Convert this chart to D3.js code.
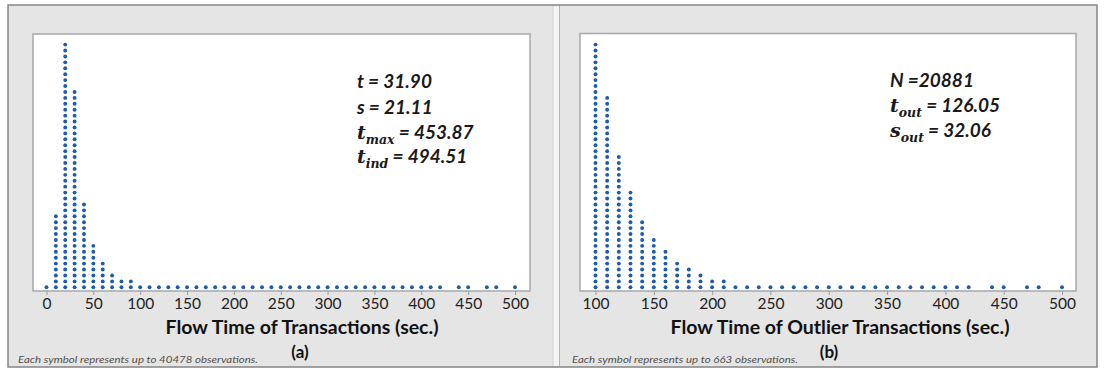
<!DOCTYPE html>
<html>
<head>
<meta charset="utf-8">
<script src="https://cdn.jsdelivr.net/npm/d3@7"></script>
<style>
  body { margin: 0; background: #fff; }
  svg { display: block; }
</style>
</head>
<body>
<svg id="chart" width="1105" height="372"></svg>
<script>
// panel (a): all transactions
const leftBins = [0, 10, 20, 30, 40, 50, 60, 70, 80, 90,
  100, 110, 120, 130, 140, 150, 160, 170, 180, 190,
  200, 210, 220, 230, 240, 250, 260, 270, 280, 290,
  300, 310, 320, 330, 340, 350, 360, 370, 380, 390,
  400, 410, 420, 440, 450, 470, 480, 500];
const leftCounts = [1, 13, 42, 34, 15, 8, 5, 3, 2, 2,
  1, 1, 1, 1, 1, 1, 1, 1, 1, 1,
  1, 1, 1, 1, 1, 1, 1, 1, 1, 1,
  1, 1, 1, 1, 1, 1, 1, 1, 1, 1,
  1, 1, 1, 1, 1, 1, 1, 1];
const leftTicks = [0, 50, 100, 150, 200, 250, 300, 350, 400, 450, 500];

// panel (b): outlier transactions
const rightBins = [100, 110, 120, 130, 140, 150, 160, 170, 180, 190,
  200, 210, 220, 230, 240, 250, 260, 270, 280, 290,
  300, 310, 320, 330, 340, 350, 360, 370, 380, 390,
  400, 410, 420, 440, 450, 470, 480, 500];
const rightCounts = [42, 33, 23, 17, 12, 9, 7, 5, 4, 3,
  2, 2, 1, 1, 1, 1, 1, 1, 1, 1,
  1, 1, 1, 1, 1, 1, 1, 1, 1, 1,
  1, 1, 1, 1, 1, 1, 1, 1];
const rightTicks = [100, 150, 200, 250, 300, 350, 400, 450, 500];

// stats boxes: symbol, subscript, value
const leftStats = [
  ["t", "", "= 31.90"],
  ["s", "", "= 21.11"],
  ["t", "max", "= 453.87"],
  ["t", "ind", " = 494.51"]
];
const rightStats = [
  ["N", "", "=20881"],
  ["t", "out", "= 126.05"],
  ["s", "out", "= 32.06"]
];

const svg = d3.select("#chart");
const sans = "Lato, 'Open Sans', sans-serif";
const serif = "'DejaVu Serif', 'Liberation Serif', serif";
const dotColor = "#1c5cad";

// outer frame
svg.append("rect").attr("x", 8).attr("y", 5).attr("width", 1089).attr("height", 362)
  .attr("fill", "#e5e5e5").attr("stroke", "#858585").attr("stroke-width", 1.5);
// divider between the two panels
svg.append("rect").attr("x", 553).attr("y", 6).attr("width", 6).attr("height", 360)
  .attr("fill", "#f4f4f4");
svg.append("line").attr("x1", 553).attr("x2", 553).attr("y1", 6).attr("y2", 366)
  .attr("stroke", "#d2d2d2");
svg.append("line").attr("x1", 559.5).attr("x2", 559.5).attr("y1", 6).attr("y2", 366)
  .attr("stroke", "#b5b5b5");

function drawPanel(p) {
  const g = svg.append("g");
  const x = d3.scaleLinear().domain(p.domain).range(p.range);
  const y = d3.scaleLinear().domain([0, 41]).range([287.3, 44.6]);

  g.append("rect")
    .attr("x", p.box[0]).attr("y", p.box[1])
    .attr("width", p.box[2] - p.box[0]).attr("height", p.box[3] - p.box[1])
    .attr("fill", "#fff").attr("stroke", "#a8a8a8").attr("stroke-width", 1.5);

  // x axis along the bottom edge of the plot box
  const axis = d3.axisBottom(x).tickValues(p.ticks).tickSize(4).tickPadding(3)
    .tickFormat(d3.format("d"));
  const ag = g.append("g").attr("transform", `translate(0,${p.box[3]})`).call(axis);
  ag.select(".domain").remove();
  ag.selectAll(".tick line").attr("stroke", "#9a9a9a");
  ag.selectAll(".tick text")
    .attr("fill", "#222")
    .style("font-family", sans)
    .style("font-size", "15.5px");

  // stacked dots
  const dots = [];
  p.bins.forEach((b, i) => {
    d3.range(p.counts[i]).forEach(k => dots.push({ v: b, k: k }));
  });
  g.selectAll("circle.dot").data(dots).enter().append("circle")
    .attr("class", "dot")
    .attr("cx", d => x(d.v))
    .attr("cy", d => y(d.k))
    .attr("r", 1.95)
    .attr("fill", dotColor);

  // stats text
  p.stats.forEach((s, i) => {
    const t = g.append("text")
      .attr("x", p.statX).attr("y", p.statY[i])
      .attr("fill", "#1a1a1a")
      .style("font-weight", "bold").style("font-style", "italic");
    if (s[1]) {
      t.append("tspan").text(s[0]).style("font-family", serif).style("font-size", "19px");
      t.append("tspan").text(s[1]).attr("dy", 5)
        .style("font-family", serif).style("font-size", "12.5px");
      t.append("tspan").text(" " + s[2]).attr("dy", -5)
        .style("font-family", sans).style("font-size", "19px");
    } else {
      t.append("tspan").text(s[0] + " " + s[2])
        .style("font-family", sans).style("font-size", "19px");
    }
  });

  g.append("text")
    .attr("x", p.titleX).attr("y", 334)
    .attr("text-anchor", "middle")
    .attr("textLength", p.titleLen).attr("lengthAdjust", "spacingAndGlyphs")
    .attr("fill", "#111")
    .style("font-family", sans).style("font-weight", "bold").style("font-size", "18px")
    .text(p.title);

  g.append("text")
    .attr("x", p.labelX).attr("y", 358)
    .attr("text-anchor", "middle")
    .attr("fill", "#111")
    .style("font-family", sans).style("font-weight", "bold").style("font-size", "17px")
    .text(p.label);

  g.append("text")
    .attr("x", p.noteX).attr("y", 362.5)
    .attr("textLength", p.noteLen).attr("lengthAdjust", "spacingAndGlyphs")
    .attr("fill", "#54504c")
    .style("font-family", sans).style("font-style", "italic").style("font-size", "9.5px")
    .text(p.note);
}

drawPanel({
  domain: [0, 500], range: [46.5, 515],
  box: [33, 34, 530, 291],
  ticks: leftTicks, bins: leftBins, counts: leftCounts,
  stats: leftStats, statX: 357, statY: [88, 114, 139, 163],
  title: "Flow Time of Transactions (sec.)", titleX: 302, titleLen: 273,
  label: "(a)", labelX: 300,
  note: "Each symbol represents up to 40478 observations.", noteX: 18, noteLen: 240
});

drawPanel({
  domain: [100, 500], range: [595.5, 1062],
  box: [580, 33.5, 1076, 291],
  ticks: rightTicks, bins: rightBins, counts: rightCounts,
  stats: rightStats, statX: 890, statY: [87, 112, 137],
  title: "Flow Time of Outlier Transactions (sec.)", titleX: 840, titleLen: 339,
  label: "(b)", labelX: 829,
  note: "Each symbol represents up to 663 observations.", noteX: 572, noteLen: 226
});
</script>
</body>
</html>
